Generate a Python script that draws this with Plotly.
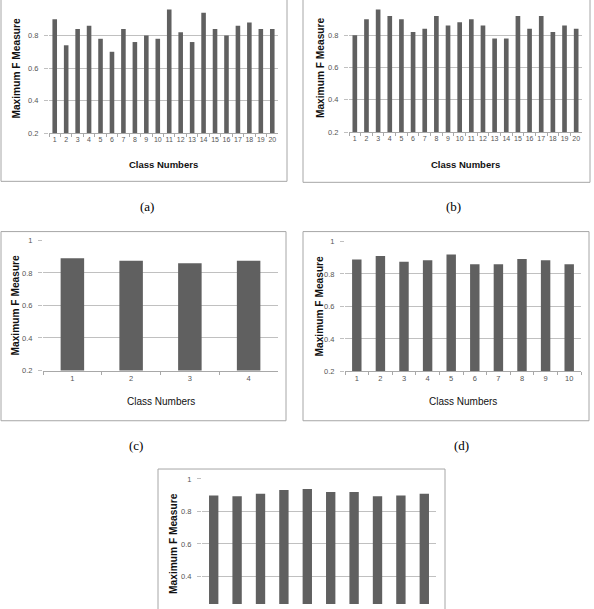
import plotly.graph_objects as go

W, H = 594, 609

# ---------------- data ----------------
classes_a = [str(i) for i in range(1, 21)]
fmax_a = [0.90, 0.74, 0.84, 0.86, 0.78, 0.70, 0.84, 0.76, 0.80, 0.78,
          0.96, 0.82, 0.76, 0.94, 0.84, 0.80, 0.86, 0.88, 0.84, 0.84]

classes_b = [str(i) for i in range(1, 21)]
fmax_b = [0.80, 0.90, 0.96, 0.92, 0.90, 0.82, 0.84, 0.92, 0.86, 0.88,
          0.90, 0.86, 0.78, 0.78, 0.92, 0.84, 0.92, 0.82, 0.86, 0.84]

classes_c = ["1", "2", "3", "4"]
fmax_c = [0.89, 0.875, 0.86, 0.875]

classes_d = [str(i) for i in range(1, 11)]
fmax_d = [0.889, 0.911, 0.875, 0.885, 0.92, 0.86, 0.86, 0.892, 0.885, 0.86]

classes_e = [str(i) for i in range(1, 11)]
fmax_e = [0.897, 0.893, 0.909, 0.931, 0.937, 0.919, 0.919, 0.893, 0.897, 0.909]

y_ticks = [0.2, 0.4, 0.6, 0.8, 1.0]
y_ticktext = ["0.2", "0.4", "0.6", "0.8", "1"]
panel_labels = ["(a)", "(b)", "(c)", "(d)", "(e)"]
x_title = "Class Numbers"
y_title = "Maximum F Measure"

# ---------------- helpers ----------------
def px_x(p):
    return p / W

def px_y(p):
    return 1 - p / H

BAR = "#606060"
GRID = "#c0c0c0"
TICKC = "#555555"
BORDER = "#a6a6a6"
FONT = "Liberation Sans, Arial, sans-serif"

fig = go.Figure()

panels = [
    dict(cat=classes_a, val=fmax_a, x0=49, x1=278, ytop=-1, ybot=131,
         rect=(1, -5, 287, 180), bold=True, lab=(147, 206), ytx=17, xty=163, xfs=7),
    dict(cat=classes_b, val=fmax_b, x0=349, x1=582, ytop=-1, ybot=130,
         rect=(303, -5, 590, 181), bold=True, lab=(453, 206), ytx=320, xty=163, xfs=7),
    dict(cat=classes_c, val=fmax_c, x0=43, x1=278, ytop=240, ybot=372,
         rect=(1, 231, 286, 423), bold=False, lab=(136, 448), ytx=15, xty=403, xfs=7.5),
    dict(cat=classes_d, val=fmax_d, x0=345, x1=581, ytop=241, ybot=373,
         rect=(303, 231, 589, 423), bold=False, lab=(461, 448), ytx=319, xty=403, xfs=7.5),
    dict(cat=classes_e, val=fmax_e, x0=202, x1=436, ytop=482, ybot=614,
         rect=(158, 472, 445, 640), bold=True, lab=None, ytx=174, xty=None, xfs=7.5),
]

for i, p in enumerate(panels):
    n = i + 1
    xa = "x" if n == 1 else f"x{n}"
    ya = "y" if n == 1 else f"y{n}"
    fig.add_trace(go.Bar(x=p["cat"], y=p["val"], marker=dict(color=BAR, line=dict(width=0)),
                         xaxis=xa, yaxis=ya, showlegend=False, hoverinfo="skip"))

    per_px = 0.8 / (p["ybot"] - p["ytop"])
    top_px = max(p["ytop"], 0)
    bot_px = min(p["ybot"], H)
    r_top = 1.0 - (top_px - p["ytop"]) * per_px
    r_bot = 0.2 + (p["ybot"] - bot_px) * per_px
    cut_bottom = p["ybot"] > H

    xkey = "xaxis" if n == 1 else f"xaxis{n}"
    ykey = "yaxis" if n == 1 else f"yaxis{n}"
    fig.update_layout(**{
        xkey: dict(domain=[px_x(p["x0"]), px_x(p["x1"])], anchor=ya, type="category",
                   showgrid=False, zeroline=False,
                   showline=not cut_bottom, linecolor="#a8a8a8", linewidth=1,
                   ticks="" if cut_bottom else "outside", tickson="boundaries",
                   ticklen=3, tickcolor="#a8a8a8", tickangle=0,
                   showticklabels=not cut_bottom,
                   tickfont=dict(family=FONT, size=p["xfs"], color=TICKC),
                   fixedrange=True),
        ykey: dict(domain=[px_y(bot_px), px_y(top_px)], anchor=xa,
                   range=[r_bot, r_top], tickvals=y_ticks, ticktext=y_ticktext,
                   showgrid=True, gridcolor=GRID, gridwidth=1, zeroline=False,
                   showline=False, ticks="outside", ticklen=4, tickcolor=GRID,
                   ticklabelstandoff=4,
                   tickfont=dict(family=FONT, size=7.5, color=TICKC),
                   fixedrange=True),
    })

    x0, y0, x1, y1 = p["rect"]
    fig.add_shape(type="rect", xref="paper", yref="paper",
                  x0=px_x(x0), x1=px_x(x1), y0=px_y(y1), y1=px_y(y0),
                  line=dict(color=BORDER, width=1), fillcolor="rgba(0,0,0,0)", layer="below")

    fig.add_annotation(xref="paper", yref="paper", x=px_x(p["ytx"]),
                       y=px_y((p["ytop"] + p["ybot"]) / 2 if cut_bottom else (top_px + bot_px) / 2),
                       text=f"<b>{y_title}</b>", textangle=-90, showarrow=False,
                       font=dict(family=FONT, size=10.2, color="#111111"),
                       xanchor="center", yanchor="middle")
    if p["xty"] is not None:
        txt = f"<b>{x_title}</b>" if p["bold"] else x_title
        fig.add_annotation(xref="paper", yref="paper", x=px_x((p["x0"] + p["x1"]) / 2),
                           y=px_y(p["xty"]), text=txt, showarrow=False,
                           font=dict(family=FONT, size=9.5 if p["bold"] else 10,
                                     color="#111111"),
                           xanchor="center", yanchor="middle")
    if p["lab"] is not None:
        fig.add_annotation(xref="paper", yref="paper", x=px_x(p["lab"][0]), y=px_y(p["lab"][1]),
                           text=panel_labels[i], showarrow=False,
                           font=dict(family="Liberation Serif, Times New Roman, serif", size=13,
                                     color="#000000"),
                           xanchor="center", yanchor="middle")

fig.update_layout(width=W, height=H, margin=dict(l=0, r=0, t=0, b=0),
                  paper_bgcolor="white", plot_bgcolor="white",
                  bargap=0.6, showlegend=False)

fig.write_html("out.html", config={"displayModeBar": False})
